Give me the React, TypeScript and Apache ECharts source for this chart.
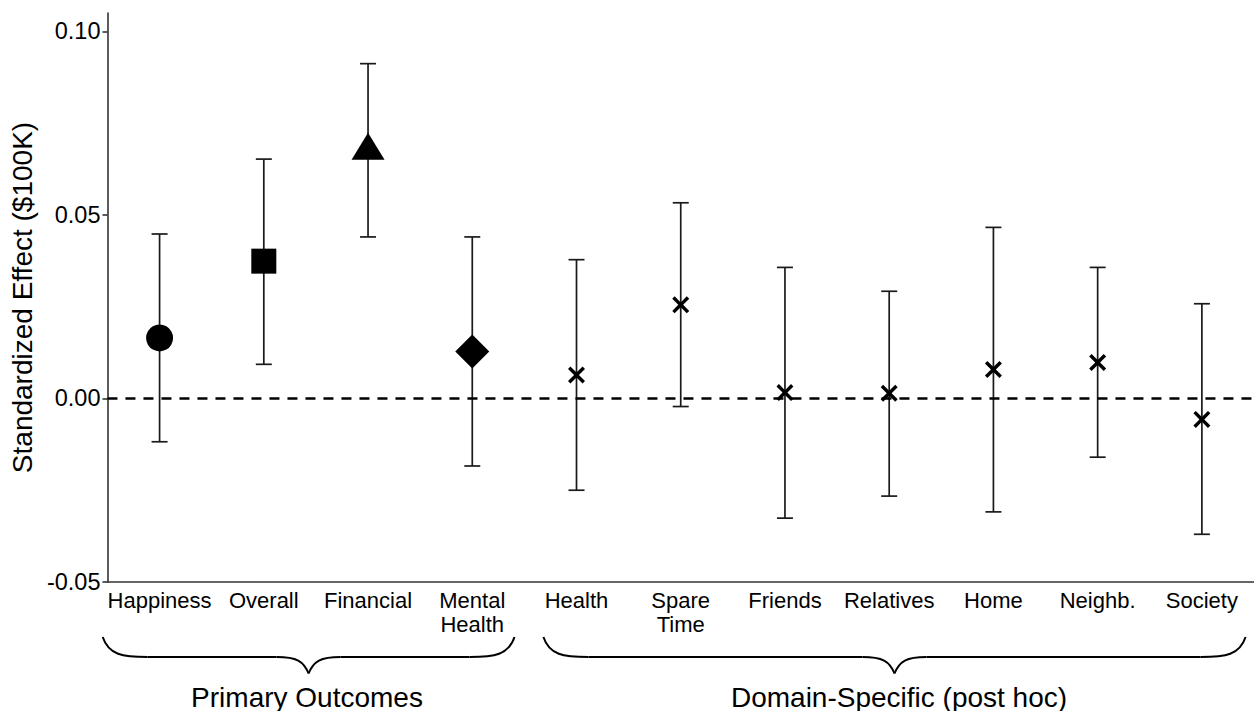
import React, { useEffect, useRef } from "react";
import * as echarts from "echarts";

const categories = ["Happiness", "Overall", "Financial", "Mental\nHealth", "Health", "Spare\nTime", "Friends", "Relatives", "Home", "Neighb.", "Society"];
const estimates = [0.0165, 0.0374, 0.0675, 0.0128, 0.0064, 0.0255, 0.0016, 0.0014, 0.0079, 0.0098, -0.0057];
const lowerCI = [-0.0118, 0.0093, 0.044, -0.0184, -0.025, -0.0022, -0.0326, -0.0266, -0.0309, -0.016, -0.037];
const upperCI = [0.0448, 0.0652, 0.0912, 0.044, 0.0378, 0.0533, 0.0357, 0.0292, 0.0466, 0.0357, 0.0258];
const yTicks = [-0.05, 0, 0.05, 0.1];
const groupLabels = ["Primary Outcomes", "Domain-Specific (post hoc)"];

const FONT = "'Liberation Sans', Arial, Helvetica, sans-serif";
const CROSS = "path://M0,2.3L2.3,0L8,5.7L13.7,0L16,2.3L10.3,8L16,13.7L13.7,16L8,10.3L2.3,16L0,13.7L5.7,8Z";

const symbolFor = (i: number) => {
  if (i === 0) return { symbol: "circle", symbolSize: 27, symbolOffset: [0, 0] };
  if (i === 1) return { symbol: "rect", symbolSize: 25, symbolOffset: [0, 0] };
  if (i === 2) return { symbol: "triangle", symbolSize: [33, 27], symbolOffset: [0, -4.5] };
  if (i === 3) return { symbol: "diamond", symbolSize: 34, symbolOffset: [0, 0] };
  return { symbol: CROSS, symbolSize: 17, symbolOffset: [0, 0] };
};

function brace(x0: number, x1: number, yTop: number, yMid: number, yTip: number) {
  const c = (x0 + x1) / 2;
  const st = { stroke: "#000", lineWidth: 2, fill: "none" };
  return [
    { type: "bezierCurve", shape: { x1: x0, y1: yTop, cpx1: x0 + 6, cpy1: yMid - 2, cpx2: x0 + 20, cpy2: yMid, x2: x0 + 45, y2: yMid }, style: st },
    { type: "line", shape: { x1: x0 + 45, y1: yMid, x2: c - 32, y2: yMid }, style: st },
    { type: "bezierCurve", shape: { x1: c - 32, y1: yMid, cpx1: c - 12, cpy1: yMid, cpx2: c - 5, cpy2: yMid + 4, x2: c, y2: yTip }, style: st },
    { type: "bezierCurve", shape: { x1: c, y1: yTip, cpx1: c + 5, cpy1: yMid + 4, cpx2: c + 12, cpy2: yMid, x2: c + 32, y2: yMid }, style: st },
    { type: "line", shape: { x1: c + 32, y1: yMid, x2: x1 - 45, y2: yMid }, style: st },
    { type: "bezierCurve", shape: { x1: x1 - 45, y1: yMid, cpx1: x1 - 20, cpy1: yMid, cpx2: x1 - 6, cpy2: yMid - 2, x2: x1, y2: yTop }, style: st },
  ];
}

export default function App() {
  const ref = useRef<HTMLDivElement>(null);
  useEffect(() => {
    if (!ref.current) return;
    const chart = echarts.init(ref.current, null, { renderer: "svg" });
    const option: any = {
      animation: false,
      backgroundColor: "#fff",
      textStyle: { fontFamily: FONT },
      grid: { left: 107.3, top: 13, width: 1152, height: 569, containLabel: false },
      xAxis: {
        type: "category",
        data: categories,
        boundaryGap: true,
        axisLine: { show: true, onZero: false, lineStyle: { color: "#333", width: 1.6 } },
        axisTick: { show: false },
        axisLabel: { color: "#000", fontSize: 22, lineHeight: 24, margin: 6, fontFamily: FONT, interval: 0 },
        splitLine: { show: false },
      },
      yAxis: {
        type: "value",
        min: -0.05,
        max: 0.105,
        interval: 0.05,
        name: "Standardized Effect ($100K)",
        nameLocation: "middle",
        nameRotate: 90,
        nameGap: 59,
        nameTextStyle: { color: "#000", fontSize: 28, fontFamily: FONT },
        axisLine: { show: true, onZero: false, lineStyle: { color: "#333", width: 1.6 } },
        axisTick: { show: true, length: 5, lineStyle: { color: "#333", width: 1.6 }, customValues: yTicks },
        axisLabel: { color: "#000", fontSize: 23.5, margin: 7, fontFamily: FONT, customValues: yTicks, formatter: (v: number) => v.toFixed(2) },
        splitLine: { show: false },
      },
      series: [
        {
          type: "custom",
          z: 2,
          data: categories.map((_, i) => [i, lowerCI[i], upperCI[i]]),
          renderItem: (params: any, api: any) => {
            const i = api.value(0);
            const lo = api.coord([i, api.value(1)]);
            const hi = api.coord([i, api.value(2)]);
            const hw = 8;
            const style = { stroke: "#1a1a1a", lineWidth: 1.7 };
            return {
              type: "group",
              children: [
                { type: "line", shape: { x1: hi[0], y1: hi[1], x2: lo[0], y2: lo[1] }, style },
                { type: "line", shape: { x1: hi[0] - hw, y1: hi[1], x2: hi[0] + hw, y2: hi[1] }, style },
                { type: "line", shape: { x1: lo[0] - hw, y1: lo[1], x2: lo[0] + hw, y2: lo[1] }, style },
              ],
            };
          },
          markLine: {
            silent: true,
            symbol: "none",
            label: { show: false },
            lineStyle: { color: "#000", width: 2.6, type: [10, 8], opacity: 1 },
            data: [{ yAxis: 0 }],
          },
        },
        {
          type: "scatter",
          z: 5,
          data: estimates.map((v, i) => ({ value: [i, v], ...symbolFor(i), itemStyle: { color: "#000", opacity: 1 } })),
        },
      ],
      graphic: [
        ...brace(102.7, 514.5, 637, 657, 673.5),
        ...brace(543.4, 1245.6, 637, 657, 673.5),
        { type: "text", x: 307, y: 697, style: { text: groupLabels[0], font: `28px ${FONT}`, fill: "#000", textAlign: "center", textVerticalAlign: "middle" } },
        { type: "text", x: 899, y: 697, style: { text: groupLabels[1], font: `28px ${FONT}`, fill: "#000", textAlign: "center", textVerticalAlign: "middle" } },
      ],
    };
    chart.setOption(option);
    return () => chart.dispose();
  }, []);
  return <div ref={ref} style={{ position: "absolute", left: 0, top: 0, width: 1254, height: 711, background: "#fff" }} />;
}
